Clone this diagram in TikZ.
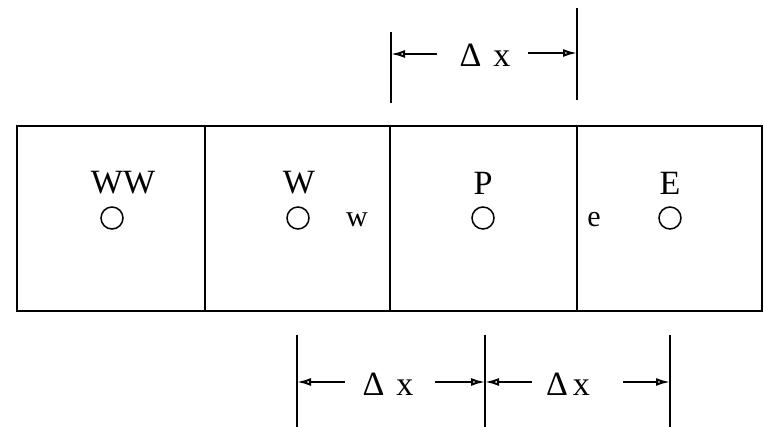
\documentclass[tikz,border=0pt]{standalone}
\usepackage{fontspec}
\setmainfont{Liberation Serif}
\usetikzlibrary{arrows.meta}
\begin{document}
\begin{tikzpicture}[x=1pt,y=-1pt,
  wall/.style={line width=1.8pt},
  dimline/.style={line width=1.6pt},
  dimarrow/.style={line width=1.8pt,-{Latex[length=14pt,width=8pt,open,line width=2pt]}},
  pt/.style={circle,draw,line width=1.5pt,minimum size=22pt,inner sep=0pt},
  big/.style={font=\fontsize{34}{34}\selectfont,inner sep=0pt},
  small/.style={font=\fontsize{30}{30}\selectfont,inner sep=0pt}]
\useasboundingbox (0,0) rectangle (764,427);
% control volume strip
\coordinate (tl) at (17,126);
\coordinate (br) at (762,311);
\draw[wall] (tl) rectangle (br);
\coordinate (d1t) at (205,126); \coordinate (d1b) at (205,311);
\coordinate (d2t) at (390,126); \coordinate (d2b) at (390,311);
\coordinate (d3t) at (577,126); \coordinate (d3b) at (577,311);
\draw[wall] (d1t) -- (d1b);
\draw[wall] (d2t) -- (d2b);
\draw[wall] (d3t) -- (d3b);
% nodes
\node[pt] (cWW) at (112,218) {};
\node[pt] (cW) at (298,218) {};
\node[pt] (cP) at (483,218) {};
\node[pt] (cE) at (670,218) {};
\node[big] (lWW) at (123,183) {WW};
\node[big] (lW) at (299,183) {W};
\node[big] (lP) at (483,183) {P};
\node[big] (lE) at (670,183) {E};
\node[small] (lw) at (357,220) {w};
\node[small] (le) at (594,220) {e};
% top dimension
\coordinate (t1a) at (391,32); \coordinate (t1b) at (391,103);
\coordinate (t2a) at (577,8); \coordinate (t2b) at (577,100);
\draw[dimline] (t1a) -- (t1b);
\draw[dimline] (t2a) -- (t2b);
\node[big] (dxT) at (485,55) {Δ\hspace{0.35em}x};
\coordinate (t1m) at (391,54); \coordinate (t2m) at (577,53);
\coordinate (tsL) at (437,54); \coordinate (tsR) at (528,53);
\draw[dimarrow] (tsL) -- (t1m);
\draw[dimarrow] (tsR) -- (t2m);
% bottom dimensions
\coordinate (b1a) at (297,335); \coordinate (b1b) at (297,427);
\coordinate (b2a) at (485,335); \coordinate (b2b) at (485,427);
\coordinate (b3a) at (670,335); \coordinate (b3b) at (670,427);
\draw[dimline] (b1a) -- (b1b);
\draw[dimline] (b2a) -- (b2b);
\draw[dimline] (b3a) -- (b3b);
\coordinate (b1m) at (297,382); \coordinate (b2m) at (485,382); \coordinate (b3m) at (670,382);
\node[big] (dx1) at (388,384) {Δ\hspace{0.35em}x};
\node[big] (dx2) at (568,384) {Δ\hspace{0.15em}x};
\coordinate (s1L) at (345,382); \coordinate (s1R) at (435,382);
\coordinate (s2L) at (532,382); \coordinate (s2R) at (623,382);
\draw[dimarrow] (s1L) -- (b1m);
\draw[dimarrow] (s1R) -- (b2m);
\draw[dimarrow] (s2L) -- (b2m);
\draw[dimarrow] (s2R) -- (b3m);
\end{tikzpicture}
\end{document}
